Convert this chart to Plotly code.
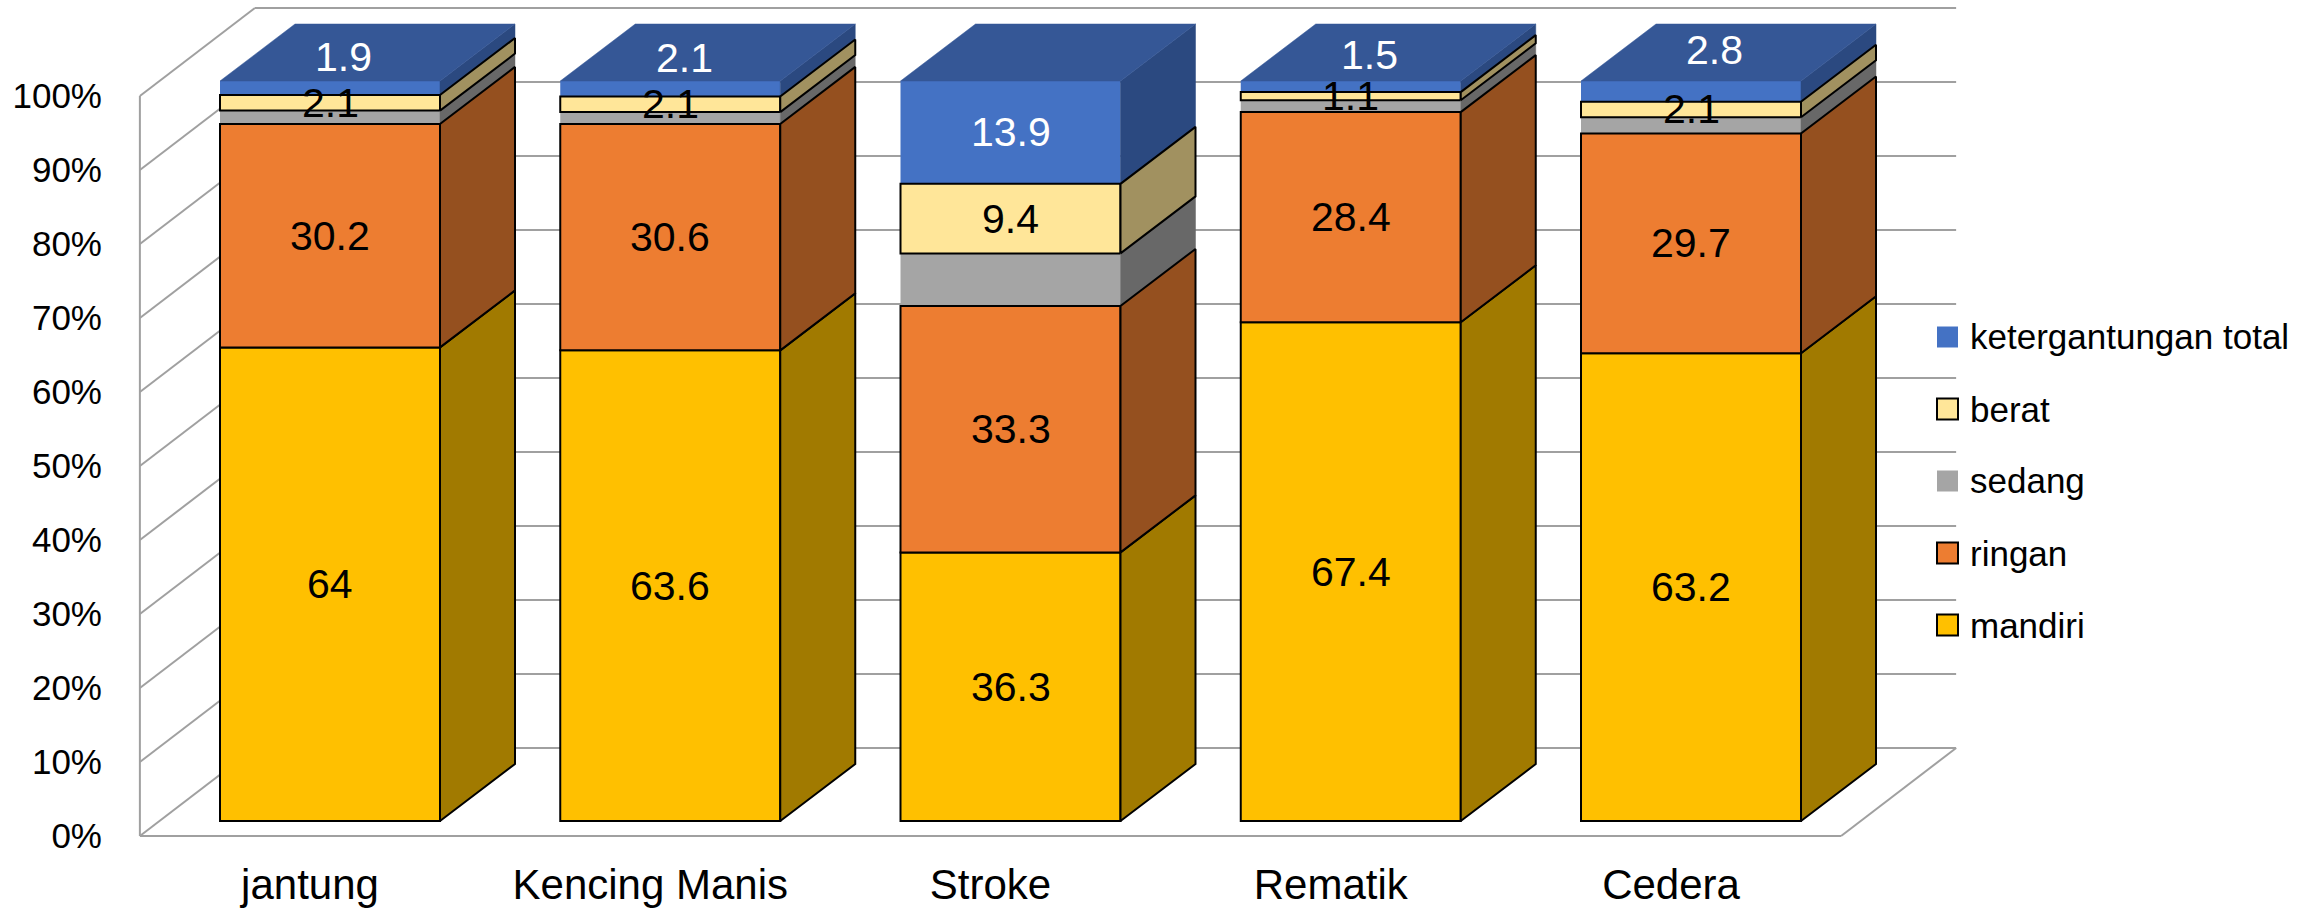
import plotly.graph_objects as go
import numpy as np

categories = ["jantung", "Kencing Manis", "Stroke", "Rematik", "Cedera"]
mandiri = [64, 63.6, 36.3, 67.4, 63.2]
ringan = [30.2, 30.6, 33.3, 28.4, 29.7]
sedang = [1.8, 1.6, 7.1, 1.6, 2.2]
berat = [2.1, 2.1, 9.4, 1.1, 2.1]
total = [1.9, 2.1, 13.9, 1.5, 2.8]
y_ticks = [0, 10, 20, 30, 40, 50, 60, 70, 80, 90, 100]
y_tick_labels = ["0%", "10%", "20%", "30%", "40%", "50%", "60%", "70%", "80%", "90%", "100%"]

W, H = 2313, 908
X0, PITCH = 310.0, 340.25      # px of category 0 on the front plane, px per category
Y0, PER = 836.0, 7.4           # px of 0 %, px per 1 %
x_range = [(0 - X0) / PITCH, (W - X0) / PITCH]
y_range = [(Y0 - H) / PER, Y0 / PER]

HALF = 110 / PITCH             # half bar width
BAR_SHIFT_X, BAR_SHIFT_Y = 20 / PITCH, 15 / PER    # front of bar relative to front of floor
BAR_DX, BAR_DY = 75 / PITCH, 57 / PER              # bar depth
WALL_DX, WALL_DY = 115 / PITCH, 88 / PER           # chart depth
LEFT, RIGHT = -0.5, 4.5

series = [
    dict(name="mandiri", v=mandiri, front="#FFC000", side="#A17A00", border=True, font="black", label=True),
    dict(name="ringan", v=ringan, front="#ED7D31", side="#95501F", border=True, font="black", label=True),
    dict(name="sedang", v=sedang, front="#A5A5A5", side="#686868", border=False, font="black", label=False),
    dict(name="berat", v=berat, front="#FFE699", side="#A19160", border=True, font="black", label=True),
    dict(name="ketergantungan total", v=total, front="#4472C4", side="#2B4980", border=False, font="white", label=True),
]
TOP_COLOR = "#355796"
GRID = "#A0A0A0"
base = np.zeros(5)
for s in series:
    s["base"] = base.copy()
    base = base + np.array(s["v"], dtype=float)
stack_top = base

# label nudges in px (right, up) for labels Excel moved by hand
nudge = {
    ("ketergantungan total", 0): (13, 31),
    ("ketergantungan total", 1): (14, 31),
    ("ketergantungan total", 3): (19, 32),
    ("ketergantungan total", 4): (23, 41),
}

fig = go.Figure()
xc = np.arange(5) + BAR_SHIFT_X
ordered = [s for s in series if not s["border"]] + [s for s in series if s["border"]]

# front faces
for s in ordered:
    fig.add_trace(go.Bar(
        x=xc, y=s["v"], base=s["base"] + BAR_SHIFT_Y, width=2 * HALF, name=s["name"],
        marker=dict(color=s["front"], line=dict(color="black", width=2 if s["border"] else 0)),
        showlegend=False, hoverinfo="name+y",
    ))

# side faces
for s in ordered:
    px, py = [], []
    for i in range(5):
        r = xc[i] + HALF
        lo = s["base"][i] + BAR_SHIFT_Y
        hi = lo + s["v"][i]
        px += [r, r + BAR_DX, r + BAR_DX, r, r, None]
        py += [lo, lo + BAR_DY, hi + BAR_DY, hi, lo, None]
    fig.add_trace(go.Scatter(
        x=px, y=py, mode="lines", fill="toself", fillcolor=s["side"], showlegend=False, hoverinfo="skip",
        line=dict(color="black" if s["border"] else s["side"], width=2 if s["border"] else 0.5),
    ))

# top faces
px, py = [], []
for i in range(5):
    l, r = xc[i] - HALF, xc[i] + HALF
    t = stack_top[i] + BAR_SHIFT_Y
    px += [l, r, r + BAR_DX, l + BAR_DX, l, None]
    py += [t, t, t + BAR_DY, t + BAR_DY, t, None]
fig.add_trace(go.Scatter(x=px, y=py, mode="lines", fill="toself", fillcolor=TOP_COLOR, showlegend=False,
                         hoverinfo="skip", line=dict(color=TOP_COLOR, width=0.5)))

# walls and gridlines
shapes = []
def seg(x0, y0, x1, y1):
    shapes.append(dict(type="line", xref="x", yref="y", x0=x0, y0=y0, x1=x1, y1=y1, layer="below",
                       line=dict(color=GRID, width=2)))
for t in y_ticks:
    seg(LEFT, t, LEFT + WALL_DX, t + WALL_DY)
    seg(LEFT + WALL_DX, t + WALL_DY, RIGHT + WALL_DX, t + WALL_DY)
seg(LEFT, 0, LEFT, 100)
seg(LEFT, 0, RIGHT, 0)
seg(RIGHT, 0, RIGHT + WALL_DX, WALL_DY)

# data labels
annotations = []
for s in series:
    if not s["label"]:
        continue
    for i, v in enumerate(s["v"]):
        dx, dy = nudge.get((s["name"], i), (0, 0))
        annotations.append(dict(
            x=xc[i], y=s["base"][i] + BAR_SHIFT_Y + v / 2, xref="x", yref="y", text=str(v), showarrow=False,
            xanchor="center", yanchor="middle", xshift=dx, yshift=dy,
            font=dict(family="Liberation Sans", size=41, color=s["font"]),
        ))

# legend
LEG_Y = [337, 409, 481, 553, 625]
for s, ly in zip(reversed(series), LEG_Y):
    shapes.append(dict(type="rect", xref="paper", yref="paper",
                       x0=1937 / W, x1=1958 / W, y0=1 - (ly + 10.5) / H, y1=1 - (ly - 10.5) / H,
                       fillcolor=s["front"], line=dict(color="black", width=2 if s["border"] else 0)))
    annotations.append(dict(x=1968 / W, y=1 - ly / H, xref="paper", yref="paper", text=s["name"], showarrow=False,
                            xanchor="left", yanchor="middle",
                            font=dict(family="Liberation Sans", size=35, color="black")))

fig.update_layout(
    width=W, height=H, margin=dict(l=0, r=0, t=0, b=0), paper_bgcolor="white", plot_bgcolor="white",
    barmode="overlay", showlegend=False, shapes=shapes, annotations=annotations,
    xaxis=dict(range=x_range, tickvals=list(range(5)), ticktext=categories, showgrid=False, zeroline=False,
               showline=False, ticks="", anchor="free", position=(H - Y0) / H, ticklabelstandoff=20,
               automargin=False, tickfont=dict(family="Liberation Sans", size=42, color="black")),
    yaxis=dict(range=y_range, tickvals=y_ticks, ticktext=y_tick_labels, showgrid=False, zeroline=False,
               showline=False, ticks="", anchor="free", position=(X0 - 170) / W, ticklabelstandoff=38,
               automargin=False, tickfont=dict(family="Liberation Sans", size=35, color="black")),
)
fig.write_html("out.html", config={"displayModeBar": False}, post_script="document.body.style.margin='0';")
